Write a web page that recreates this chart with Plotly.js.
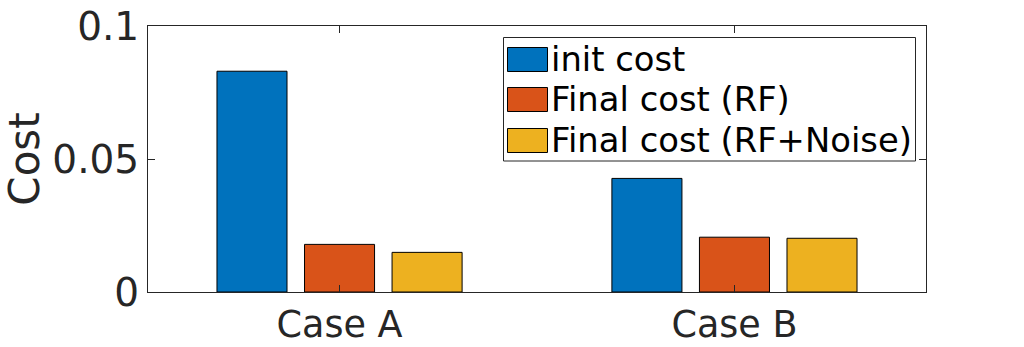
<!DOCTYPE html>
<html>
<head>
<meta charset="utf-8">
<script src="https://cdn.plot.ly/plotly-3.0.1.min.js"></script>
<style>html,body{margin:0;padding:0;background:#fff;}#chart{width:1024px;height:347px;}</style>
</head>
<body>
<div id="chart"></div>
<script>
var categories = ['Case A', 'Case B'];
var seriesNames = ['init cost', 'Final cost (RF)', 'Final cost (RF+Noise)'];
var initCost = [0.0830, 0.0427];
var finalRF = [0.0179, 0.0206];
var finalRFNoise = [0.0149, 0.0202];
var colors = ['#0072BD', '#D95319', '#EDB120'];
var yTickVals = [0, 0.05, 0.1];
var yTickText = ['0', '0.05', '0.1'];

var seriesValues = [initCost, finalRF, finalRFNoise];
var traces = seriesValues.map(function (vals, i) {
  return {
    type: 'bar', x: categories, y: vals, name: seriesNames[i],
    marker: {color: colors[i], line: {color: '#000000', width: 1}},
    showlegend: false, hoverinfo: 'skip'
  };
});

// plot area pixel geometry (for the hand-drawn legend)
var L = 148, R = 926, T = 26, B = 292;
function px(x) { return (x - L) / (R - L); }
function py(y) { return (B - y) / (B - T); }

var shapes = [{
  type: 'rect', xref: 'paper', yref: 'paper',
  x0: px(503.5), x1: px(915.5), y0: py(161), y1: py(37.5),
  line: {color: '#262626', width: 1}, fillcolor: '#ffffff', layer: 'above'
}];
var annotations = [];
var rowTop = [47.5, 87.5, 128.5];
seriesNames.forEach(function (n, i) {
  shapes.push({
    type: 'rect', xref: 'paper', yref: 'paper',
    x0: px(507.5), x1: px(547.5), y0: py(rowTop[i] + 24), y1: py(rowTop[i]),
    line: {color: '#000000', width: 1}, fillcolor: colors[i], layer: 'above'
  });
  annotations.push({
    xref: 'paper', yref: 'paper', x: px(548.5), y: py(rowTop[i] + 12),
    xanchor: 'left', yanchor: 'middle', showarrow: false, text: n,
    font: {family: 'DejaVu Sans', size: 33.8, color: '#000000'}
  });
});

var layout = {
  width: 1024, height: 347,
  margin: {l: L, r: 1024 - R, t: T, b: 347 - B, pad: 0},
  paper_bgcolor: '#ffffff', plot_bgcolor: '#ffffff',
  font: {family: 'DejaVu Sans', color: '#262626'},
  barmode: 'group', bargap: 0.335, bargroupgap: 0.2,
  showlegend: false,
  xaxis: {
    type: 'category', range: [-0.485, 1.485],
    showline: true, linecolor: '#262626', linewidth: 1, mirror: 'all',
    ticks: 'inside', ticklen: 7, tickcolor: '#262626', tickwidth: 1,
    tickfont: {family: 'DejaVu Sans', size: 36.5, color: '#262626'},
    showgrid: false, zeroline: false, fixedrange: true
  },
  yaxis: {
    range: [0, 0.1], tickvals: yTickVals, ticktext: yTickText,
    showline: true, linecolor: '#262626', linewidth: 1, mirror: 'all',
    ticks: 'inside', ticklen: 7, tickcolor: '#262626', tickwidth: 1,
    tickfont: {family: 'DejaVu Sans', size: 39, color: '#262626'},
    showgrid: false, zeroline: false, fixedrange: true,
    title: {text: 'Cost', font: {family: 'DejaVu Sans', size: 42, color: '#262626'}, standoff: 6}
  },
  shapes: shapes,
  annotations: annotations
};

Plotly.newPlot('chart', traces, layout, {staticPlot: true, displayModeBar: false});
</script>
</body>
</html>
